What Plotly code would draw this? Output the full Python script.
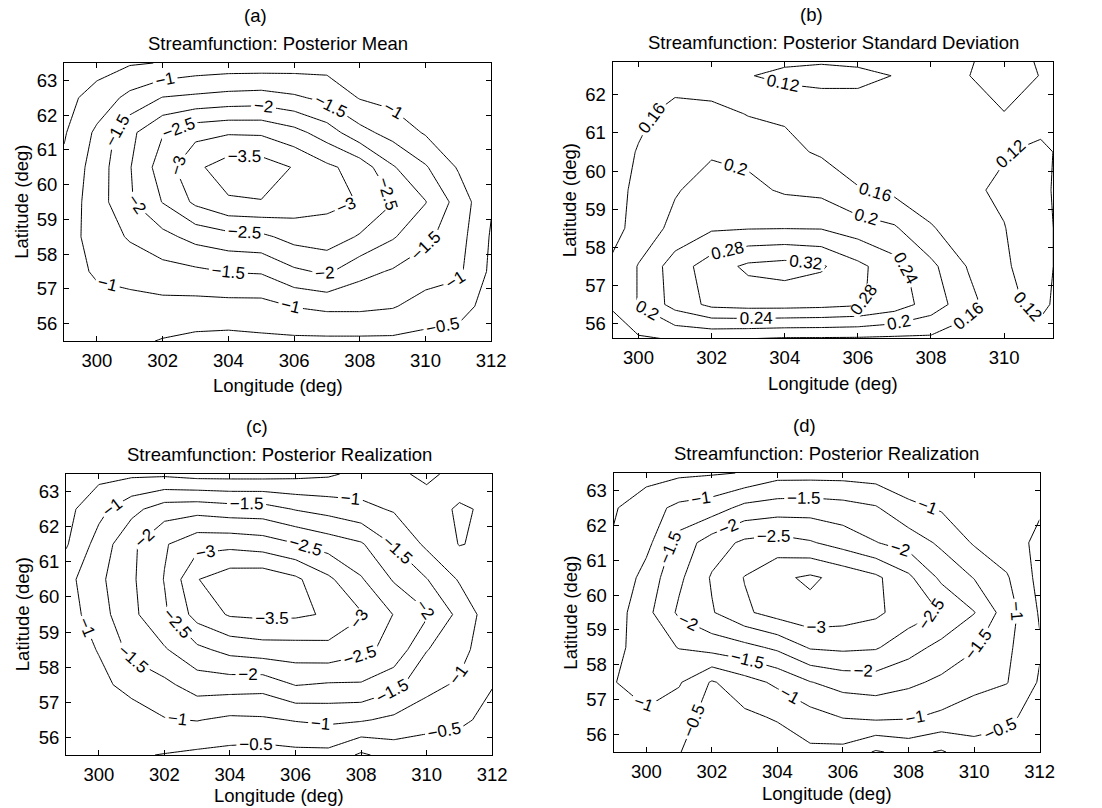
import plotly.graph_objects as go

FONT = "Liberation Sans, Arial, Helvetica, sans-serif"
W, H = 1102, 808

# grid (degrees)
lon = [299, 300, 301, 302, 303, 304, 305, 306, 307, 308, 309, 310, 311, 312]
lat = [55.5, 56.5, 57.5, 58.5, 59.5, 60.5, 61.5, 62.5, 63.5]

# (a) posterior mean, rows = lat ascending
psi_mean = [
    [-0.60, -0.65, -0.60, -0.47, -0.38, -0.35, -0.40, -0.40, -0.40, -0.40, -0.40, -0.35, -0.30, -0.20],
    [-0.70, -0.80, -0.85, -0.85, -0.83, -0.83, -0.83, -1.02, -1.11, -1.11, -1.04, -0.79, -0.70, -0.30],
    [-0.75, -1.08, -1.16, -1.32, -1.40, -1.52, -1.55, -1.91, -2.08, -1.65, -1.45, -1.24, -1.10, -0.40],
    [-0.80, -1.19, -1.56, -1.85, -2.17, -2.33, -2.39, -2.68, -2.77, -2.45, -2.05, -1.62, -1.20, -0.45],
    [-0.70, -1.26, -1.94, -2.52, -3.10, -3.44, -3.48, -3.28, -3.12, -2.98, -2.52, -2.02, -1.30, -0.55],
    [-0.60, -1.23, -1.97, -2.75, -3.40, -3.75, -3.75, -3.47, -3.10, -2.80, -2.05, -1.55, -0.95, -0.62],
    [-0.45, -1.10, -1.87, -2.47, -2.85, -2.95, -2.93, -2.67, -2.25, -1.66, -1.31, -0.95, -0.75, -0.62],
    [-0.35, -0.69, -1.14, -1.52, -1.60, -1.68, -1.72, -1.58, -1.37, -0.97, -0.85, -0.80, -0.60, -0.58],
    [-0.20, -0.30, -0.45, -0.52, -0.65, -0.70, -0.70, -0.75, -0.80, -0.60, -0.60, -0.55, -0.55, -0.55],
]

# (b) posterior standard deviation
psi_std = [
    [0.130, 0.150, 0.155, 0.150, 0.145, 0.140, 0.140, 0.140, 0.140, 0.145, 0.135, 0.125, 0.140, 0.150],
    [0.155, 0.202, 0.255, 0.290, 0.295, 0.295, 0.292, 0.285, 0.262, 0.222, 0.175, 0.130, 0.110, 0.150],
    [0.155, 0.202, 0.260, 0.300, 0.328, 0.335, 0.325, 0.290, 0.255, 0.210, 0.158, 0.125, 0.100, 0.158],
    [0.130, 0.178, 0.210, 0.235, 0.238, 0.239, 0.238, 0.220, 0.205, 0.163, 0.140, 0.121, 0.100, 0.158],
    [0.135, 0.170, 0.197, 0.215, 0.210, 0.195, 0.190, 0.162, 0.150, 0.140, 0.125, 0.115, 0.105, 0.158],
    [0.130, 0.163, 0.185, 0.196, 0.190, 0.170, 0.155, 0.145, 0.140, 0.135, 0.130, 0.122, 0.110, 0.140],
    [0.130, 0.150, 0.175, 0.175, 0.158, 0.155, 0.150, 0.140, 0.135, 0.130, 0.140, 0.158, 0.140, 0.140],
    [0.140, 0.145, 0.140, 0.130, 0.122, 0.110, 0.105, 0.110, 0.121, 0.140, 0.158, 0.190, 0.158, 0.140],
    [0.140, 0.140, 0.145, 0.150, 0.150, 0.155, 0.155, 0.155, 0.150, 0.150, 0.150, 0.175, 0.150, 0.140],
]

# (c) posterior realization 1
psi_real1 = [
    [-0.60, -0.60, -0.55, -0.48, -0.40, -0.35, -0.30, -0.35, -0.35, 0.08, -0.20, -0.20, -0.20, -0.20],
    [-0.65, -0.75, -0.80, -0.97, -1.02, -0.90, -0.93, -1.03, -1.10, -1.05, -0.89, -0.70, -0.60, -0.35],
    [-0.70, -0.90, -1.13, -1.38, -1.73, -1.73, -1.69, -2.02, -1.95, -1.95, -1.65, -1.16, -0.92, -0.52],
    [-0.80, -1.02, -1.65, -1.95, -2.38, -2.66, -2.77, -2.79, -2.84, -2.62, -2.35, -1.52, -1.20, -0.60],
    [-0.75, -1.29, -1.88, -2.42, -3.20, -3.55, -3.60, -3.58, -3.45, -3.05, -2.48, -2.07, -1.35, -0.70],
    [-0.83, -1.39, -1.92, -2.52, -3.48, -3.80, -3.85, -3.60, -3.10, -2.55, -1.95, -1.52, -0.95, -0.70],
    [-0.45, -1.20, -1.90, -2.45, -2.84, -2.86, -2.76, -2.53, -2.28, -2.06, -1.47, -0.90, -0.48, -0.60],
    [-0.35, -0.85, -1.35, -1.76, -1.82, -1.72, -1.71, -1.47, -1.32, -1.13, -0.95, -0.77, -0.42, -0.61],
    [-0.20, -0.35, -0.40, -0.40, -0.30, -0.30, -0.30, -0.35, -0.42, -0.65, -0.90, -1.10, -0.85, -0.70],
]

# (d) posterior realization 2
psi_real2 = [
    [-0.70, -0.65, -0.52, -0.20, -0.10, -0.20, -0.40, -0.35, 0.05, -0.15, 0.05, -0.30, -0.30, -0.20],
    [-0.85, -0.92, -0.70, -0.30, -0.40, -0.55, -0.80, -1.02, -1.10, -1.05, -0.90, -0.75, -0.60, -0.30],
    [-0.98, -1.20, -1.05, -0.45, -0.80, -1.10, -1.48, -1.70, -1.75, -1.60, -1.40, -1.15, -1.02, -0.45],
    [-0.85, -1.25, -1.52, -1.70, -1.85, -2.10, -2.55, -2.60, -2.55, -2.20, -1.85, -1.55, -1.10, -0.55],
    [-0.75, -1.35, -2.09, -2.46, -2.92, -3.20, -3.35, -3.25, -3.10, -2.75, -2.48, -2.02, -1.25, -0.45],
    [-0.55, -1.20, -1.90, -2.55, -3.02, -3.40, -3.58, -3.35, -3.10, -2.60, -1.90, -1.48, -1.05, -0.35],
    [-0.55, -0.85, -1.70, -2.25, -2.60, -2.70, -2.55, -2.30, -2.02, -1.80, -1.40, -0.95, -0.70, -0.40],
    [-0.45, -0.80, -1.12, -1.25, -1.65, -1.75, -1.78, -1.70, -1.55, -1.10, -0.95, -0.80, -0.65, -0.55],
    [-0.20, -0.30, -0.40, -0.45, -0.52, -0.80, -0.80, -0.80, -0.75, -0.70, -0.65, -0.60, -0.60, -0.60],
]

panel_letters = ["(a)", "(b)", "(c)", "(d)"]
panel_titles = [
    "Streamfunction: Posterior Mean",
    "Streamfunction: Posterior Standard Deviation",
    "Streamfunction: Posterior Realization",
    "Streamfunction: Posterior Realization",
]
x_ticks_full = [300, 302, 304, 306, 308, 310, 312]
y_ticks_full = [56, 57, 58, 59, 60, 61, 62, 63]
x_ticks_std = [300, 302, 304, 306, 308, 310]
y_ticks_std = [56, 57, 58, 59, 60, 61, 62]

# frame boxes in pixels: (left, top, right, bottom)
boxes = [(65, 63, 498, 341), (621, 62, 1068, 338), (67, 474, 499, 755), (622, 473, 1054, 752)]
xranges = [[299, 312], [299.29, 311.35], [299, 312], [299, 312]]
yranges = [[55.5, 63.5], [55.62, 62.86], [55.5, 63.5], [55.5, 63.5]]
xticks = [x_ticks_full, x_ticks_std, x_ticks_full, x_ticks_full]
yticks = [y_ticks_full, y_ticks_std, y_ticks_full, y_ticks_full]
# contour level step; the level list is padded on both sides with empty levels
# (no data there) so plotly places labels more densely along each line
levels = [(-16.0, 12.0, 0.5), (-0.60, 1.04, 0.04), (-16.0, 12.0, 0.5), (-16.0, 12.0, 0.5)]
fields = [psi_mean, psi_std, psi_real1, psi_real2]
xlabel_gap = [44, 45, 40, 41]

TXT = 18.5

fig = go.Figure()
for i, z in enumerate(fields):
    s = "" if i == 0 else str(i + 1)
    st, en, sz = levels[i]
    fig.add_trace(go.Contour(
        x=lon, y=lat, z=z, xaxis="x" + s, yaxis="y" + s,
        autocontour=False,
        contours=dict(start=st, end=en, size=sz, coloring="lines", showlabels=True,
                      labelformat=".2~f",
                      labelfont=dict(size=17, color="black", family=FONT)),
        line=dict(width=1, smoothing=0),
        colorscale=[[0, "black"], [1, "black"]], showscale=False, hoverinfo="skip",
    ))

layout = dict(width=W, height=H, margin=dict(l=0, r=0, t=0, b=0),
              paper_bgcolor="white", plot_bgcolor="white", showlegend=False,
              font=dict(family=FONT, size=TXT, color="black"))
annotations = []
for i, (l, t, r, b) in enumerate(boxes):
    s = "" if i == 0 else str(i + 1)
    axstyle = dict(showline=True, linecolor="black", linewidth=1, mirror="ticks",
                   ticks="inside", ticklen=5, tickcolor="black", tickwidth=1,
                   showgrid=False, zeroline=False, tickfont=dict(size=TXT, family=FONT))
    layout["xaxis" + s] = dict(axstyle, domain=[l / W, r / W], range=xranges[i],
                               tickvals=xticks[i], anchor="y" + s, ticklabelstandoff=3)
    layout["yaxis" + s] = dict(axstyle, domain=[1 - b / H, 1 - t / H], range=yranges[i],
                               tickvals=yticks[i], anchor="x" + s, ticklabelstandoff=2)
    cx = (l + r) / 2
    cy = (t + b) / 2
    def ann(text, px, py, angle=0, size=TXT):
        annotations.append(dict(text=text, x=px / W, y=1 - py / H, xref="paper", yref="paper",
                                xanchor="center", yanchor="middle", showarrow=False,
                                textangle=angle, font=dict(size=size, family=FONT, color="black")))
    ann(panel_letters[i], cx - 22, t - 48)
    ann(panel_titles[i], cx, t - 20)
    ann("Longitude (deg)", cx, b + xlabel_gap[i])
    ann("Latitude (deg)", l - 44, cy, angle=-90)

layout["annotations"] = annotations
fig.update_layout(**layout)
fig.write_html("out.html")
